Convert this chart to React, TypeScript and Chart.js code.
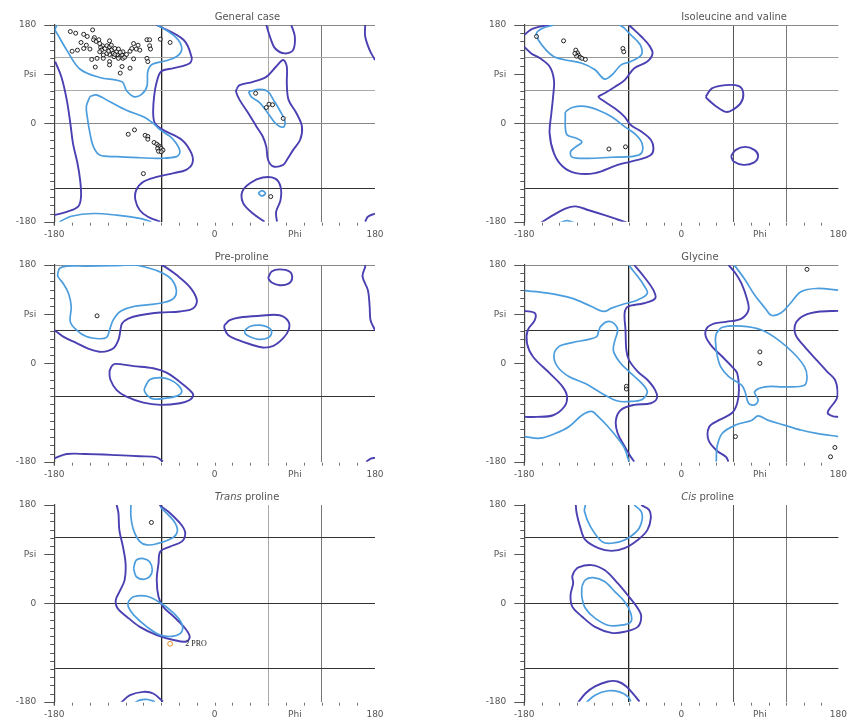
import React, { useEffect, useRef } from "react";
import { Chart, registerables } from "chart.js";

Chart.register(...registerables);

type Pt = [number, number];

// ---------------- axis ticks ----------------
const xLabelTicks = [-180, -60, 0, 60, 90, 120, 180];
const xLabelText: Record<string, string> = { "-180": "-180", "0": "0", "90": "Phi", "180": "180" };
const xMinorTicks = [-160, -140, -120, -100, -80, -60, -40, -20, 0, 20, 40, 60, 80, 100, 120, 140, 160];
const yTicks = [-180, -165, -150, -135, -120, -105, -90, -75, -60, -45, -30, -15, 0, 15, 30, 45, 60, 75, 90, 105, 120, 135, 150, 165, 180];
const yMajorTicks = [180, 90, 0, -180];
const yLabelText: Record<string, string> = { "180": "180", "90": "Psi", "0": "0", "-180": "-180" };

// ---------------- General case ----------------
const gcDarkLeft: Pt[] = [[-179, 113], [-172, 85], [-166, 43], [-162, 0], [-159, -37], [-154, -73], [-151, -104], [-150, -134], [-153, -152], [-166, -162], [-180, -168]];
const gcDarkMain: Pt[] = [[-65, 180], [-35, 153], [-26, 122], [-28, 110], [-46, 101], [-60, 95], [-65, 76], [-68, 49], [-69, 18], [-67, 0], [-58, -12], [-37, -30], [-26, -55], [-25, -73], [-32, -85], [-46, -91], [-65, -98], [-80, -107], [-88, -122], [-89, -140], [-84, -159], [-75, -171], [-61, -180]];
const gcDarkTopU: Pt[] = [[58, 180], [62, 159], [68, 137], [79, 128], [88, 134], [90, 159], [86, 180]];
const gcDarkLeftAlpha: Pt[] = [[25, 64], [28, 70], [43, 76], [58, 85], [69, 104], [77, 116], [81, 104], [81, 73], [83, 43], [92, 18], [98, -6], [96, -30], [88, -49], [81, -67], [77, -76], [66, -79], [60, -67], [58, -43], [54, -24], [47, -6], [38, 18], [28, 43], [24, 58]];
const gcDarkBottomArch: Pt[] = [[56, -180], [43, -165], [32, -146], [31, -125], [40, -109], [54, -99], [68, -101], [74, -116], [74, -140], [69, -162], [70, -180]];
const gcDarkRightTop: Pt[] = [[169, 180], [169, 159], [174, 134], [180, 116]];
const gcDarkRightBottom: Pt[] = [[169, -180], [172, -171], [180, -165]];
const gcLightBeta: Pt[] = [[-64, 180], [-52, 168], [-41, 153], [-37, 135], [-43, 122], [-56, 114], [-70, 108], [-75, 95], [-76, 68], [-82, 53], [-91, 49], [-99, 60], [-104, 76], [-129, 84], [-151, 99], [-166, 134], [-176, 162], [-179, 171], [-177, 180]];
const gcLightAlpha: Pt[] = [[-140, 49], [-133, 52], [-118, 40], [-99, 24], [-80, 12], [-69, 0], [-61, -12], [-50, -24], [-43, -37], [-39, -52], [-43, -61], [-61, -64], [-84, -63], [-110, -61], [-129, -58], [-136, -43], [-140, -18], [-143, 12], [-144, 31]];
const gcLightBottom: Pt[] = [[-174, -180], [-161, -170], [-136, -165], [-110, -168], [-84, -174], [-71, -180]];
const gcLightLeftAlpha: Pt[] = [[38, 58], [51, 62], [60, 58], [66, 43], [73, 24], [79, 3], [77, -7], [69, -1], [60, 18], [51, 37], [41, 49]];
const gcLightSmall: Pt[] = [[49, -128], [53, -123], [57, -128], [53, -133]];
const gcPoints: Pt[] = [
  [-162, 168], [-156, 165], [-147, 163], [-137, 171], [-143, 159], [-135, 157], [-150, 148], [-154, 134], [-160, 132], [-147, 137],
  [-144, 143], [-136, 153], [-133, 150], [-130, 153], [-126, 142], [-128, 139], [-127, 134], [-123, 137], [-121, 142], [-118, 151],
  [-118, 140], [-116, 134], [-114, 128], [-118, 126], [-112, 137], [-110, 131], [-109, 125], [-106, 122], [-104, 125], [-103, 131],
  [-108, 119], [-103, 119], [-95, 132], [-91, 146], [-86, 143], [-88, 136], [-84, 134], [-76, 153], [-73, 142], [-72, 136],
  [-61, 154], [-50, 148], [-132, 119], [-138, 117], [-125, 119], [-118, 113], [-118, 107], [-104, 104], [-95, 101], [-106, 92],
  [-76, 119], [-75, 113], [-91, 118], [-101, 121], [-99, 126], [-113, 122], [-121, 128], [-129, 131], [-125, 125], [-116, 143],
  [-119, 132], [-112, 126], [-108, 136], [-106, 130], [-129, 146], [-140, 136], [-73, 153], [-93, 137], [-134, 103],
  [-90, -12], [-97, -20], [-78, -22], [-75, -24], [-75, -29], [-68, -35], [-65, -38], [-63, -41], [-61, -43], [-64, -46],
  [-60, -46], [-63, -51], [-58, -49], [-60, -52], [-80, -92],
  [46, 55], [61, 35], [65, 34], [58, 29], [77, 9], [63, -134],
];

// ---------------- Isoleucine and valine ----------------
const ivDarkTopLeft: Pt[] = [[-180, 162], [-172, 172], [-162, 177], [-151, 180]];
const ivDarkMain: Pt[] = [[-180, 140], [-172, 128], [-162, 119], [-151, 104], [-146, 79], [-147, 49], [-149, 18], [-151, -18], [-146, -55], [-136, -79], [-121, -91], [-99, -91], [-73, -76], [-50, -67], [-35, -58], [-32, -46], [-35, -30], [-46, -15], [-58, -3], [-65, 12], [-76, 27], [-91, 43], [-95, 49], [-88, 55], [-76, 67], [-65, 79], [-54, 101], [-39, 113], [-33, 128], [-37, 143], [-46, 159], [-54, 171], [-60, 180]];
const ivDarkLoopA: Pt[] = [[28, 49], [35, 64], [51, 70], [66, 68], [71, 55], [68, 37], [58, 24], [51, 21], [40, 31], [29, 46]];
const ivDarkLoopB: Pt[] = [[57, -60], [62, -49], [73, -43], [84, -49], [88, -60], [83, -72], [71, -76], [60, -70]];
const ivDarkBottom: Pt[] = [[-162, -183], [-147, -168], [-133, -156], [-121, -152], [-106, -159], [-88, -168], [-73, -176], [-60, -183]];
const ivLightBeta: Pt[] = [[-146, 180], [-159, 174], [-166, 165], [-164, 153], [-155, 134], [-146, 122], [-133, 116], [-114, 110], [-99, 98], [-88, 81], [-80, 88], [-69, 107], [-58, 113], [-46, 125], [-46, 140], [-52, 153], [-60, 165], [-65, 174], [-71, 180]];
const ivLightAlpha: Pt[] = [[-133, 21], [-125, 29], [-110, 31], [-95, 24], [-80, 12], [-65, -6], [-52, -21], [-45, -37], [-46, -55], [-58, -61], [-80, -62], [-106, -64], [-125, -62], [-127, -52], [-121, -43], [-114, -34], [-121, -27], [-131, -21], [-133, -6], [-133, 12]];
const ivLightBottom: Pt[] = [[-141, -183], [-131, -178], [-121, -183]];
const ivPoints: Pt[] = [[-166, 159], [-135, 151], [-121, 134], [-119, 129], [-118, 125], [-120, 123], [-116, 121], [-114, 119], [-110, 117], [-122, 128], [-67, 137], [-66, 131], [-83, -47], [-64, -43]];

// ---------------- Pre-proline ----------------
const ppDarkMain: Pt[] = [[-60, 180], [-56, 177], [-43, 162], [-28, 140], [-20, 116], [-24, 101], [-39, 95], [-61, 93], [-84, 88], [-97, 82], [-104, 73], [-106, 58], [-108, 43], [-114, 27], [-127, 21], [-142, 27], [-155, 37], [-170, 49], [-180, 61]];
const ppDarkTopLoop: Pt[] = [[60, 156], [64, 168], [73, 172], [84, 168], [87, 156], [83, 146], [73, 143], [64, 148]];
const ppDarkLeftAlpha: Pt[] = [[11, 70], [17, 79], [28, 84], [51, 87], [73, 88], [83, 76], [83, 61], [77, 46], [66, 32], [54, 29], [40, 35], [26, 43], [15, 52], [11, 64]];
const ppDarkRightEdge: Pt[] = [[169, 180], [169, 177], [166, 159], [172, 134], [174, 104], [175, 79], [180, 61]];
const ppDarkRightBottom: Pt[] = [[170, -180], [176, -174], [180, -173]];
const ppDarkAlpha: Pt[] = [[-116, -6], [-112, -1], [-91, -5], [-69, -9], [-54, -17], [-39, -34], [-28, -49], [-24, -58], [-28, -67], [-39, -73], [-61, -76], [-80, -72], [-99, -61], [-110, -49], [-117, -30], [-118, -15]];
const ppDarkBottom: Pt[] = [[-180, -174], [-166, -166], [-144, -166], [-110, -168], [-84, -170], [-65, -172], [-58, -180]];
const ppLightBeta: Pt[] = [[-176, 165], [-174, 174], [-166, 178], [-144, 178], [-114, 179], [-91, 180], [-73, 174], [-58, 165], [-48, 153], [-43, 134], [-46, 119], [-58, 111], [-76, 107], [-91, 104], [-106, 95], [-114, 79], [-118, 61], [-121, 48], [-129, 45], [-144, 49], [-155, 61], [-162, 76], [-161, 104], [-164, 128], [-170, 146], [-176, 159]];
const ppLightLeftAlpha: Pt[] = [[34, 61], [40, 68], [51, 70], [60, 66], [64, 58], [60, 47], [49, 44], [39, 49], [34, 55]];
const ppLightAlpha: Pt[] = [[-78, -43], [-73, -30], [-61, -26], [-50, -30], [-41, -40], [-37, -52], [-43, -60], [-56, -64], [-69, -65], [-76, -58], [-79, -49]];
const ppPoints: Pt[] = [[-132, 87]];

// ---------------- Glycine ----------------
const glyDarkLeft: Pt[] = [[-180, 96], [-168, 92], [-168, 79], [-176, 61], [-177, 37], [-170, 12], [-151, -18], [-136, -43], [-131, -61], [-134, -79], [-147, -95], [-166, -98], [-180, -98]];
const glyDarkMidLeft: Pt[] = [[-54, 180], [-43, 159], [-32, 134], [-30, 119], [-43, 110], [-61, 104], [-65, 92], [-64, 61], [-63, 24], [-60, 6], [-50, -15], [-39, -30], [-30, -49], [-28, -64], [-35, -73], [-54, -76], [-69, -85], [-75, -104], [-73, -128], [-65, -152], [-58, -171], [-54, -180]];
const glyDarkMidRight: Pt[] = [[54, 180], [62, 165], [69, 146], [75, 119], [77, 98], [69, 82], [51, 76], [38, 73], [29, 64], [28, 49], [35, 31], [47, 12], [58, -6], [64, -18], [66, -49], [64, -73], [58, -91], [43, -104], [32, -116], [31, -140], [40, -159], [51, -171], [54, -180]];
const glyDarkRight: Pt[] = [[180, 96], [160, 95], [141, 88], [131, 73], [131, 52], [141, 31], [155, 6], [167, -15], [176, -30], [179, -50], [178, -65], [169, -85], [168, -92], [174, -97], [180, -98]];
const glyLightUpperLeft: Pt[] = [[-180, 133], [-155, 129], [-125, 119], [-103, 104], [-89, 95], [-80, 101], [-65, 109], [-50, 116], [-39, 128], [-43, 143], [-50, 159], [-56, 171], [-60, 180]];
const glyLightInnerLeft: Pt[] = [[-93, 67], [-86, 76], [-78, 74], [-73, 61], [-76, 43], [-78, 24], [-71, 3], [-58, -18], [-45, -37], [-39, -52], [-45, -66], [-61, -70], [-73, -69], [-91, -55], [-110, -37], [-129, -24], [-142, -6], [-146, 15], [-140, 31], [-125, 38], [-106, 44], [-97, 49], [-95, 58]];
const glyLightLowerLeft: Pt[] = [[-180, -134], [-162, -137], [-144, -128], [-129, -116], [-114, -95], [-103, -88], [-95, -98], [-84, -116], [-73, -137], [-65, -156], [-60, -180]];
const glyLightUpperRight: Pt[] = [[60, 180], [62, 177], [73, 153], [84, 125], [96, 101], [103, 88], [114, 92], [125, 110], [137, 131], [155, 137], [180, 134]];
const glyLightInnerRight: Pt[] = [[40, 55], [47, 66], [69, 68], [92, 61], [111, 43], [129, 18], [141, -6], [144, -24], [141, -40], [118, -43], [96, -43], [84, -52], [88, -67], [84, -76], [77, -73], [73, -52], [69, -40], [54, -24], [45, -6], [41, 15], [39, 43]];
const glyLightLowerRight: Pt[] = [[40, -180], [41, -152], [47, -128], [62, -113], [81, -104], [88, -96], [99, -104], [118, -113], [137, -122], [155, -128], [180, -134]];
const glyPoints: Pt[] = [[-63, -42], [-63, -47], [90, 21], [90, 0], [62, -134], [144, 172], [176, -154], [171, -171]];

// ---------------- Trans proline ----------------
const tpDarkMain: Pt[] = [[-110, 180], [-108, 165], [-107, 134], [-103, 104], [-100, 73], [-101, 43], [-106, 24], [-111, 6], [-109, -9], [-99, -24], [-84, -43], [-65, -58], [-46, -67], [-32, -70], [-28, -61], [-33, -46], [-46, -24], [-58, -6], [-63, 12], [-65, 43], [-63, 73], [-61, 95], [-50, 104], [-37, 113], [-33, 128], [-37, 143], [-50, 165], [-58, 175], [-62, 180]];
const tpDarkBottom: Pt[] = [[-106, -183], [-95, -168], [-80, -162], [-69, -165], [-58, -180]];
const tpLightTop: Pt[] = [[-61, 176], [-52, 162], [-44, 146], [-42, 131], [-48, 119], [-65, 109], [-76, 107], [-84, 113], [-91, 134], [-94, 159], [-94, 180]];
const tpLightSmall: Pt[] = [[-91, 64], [-88, 79], [-80, 82], [-73, 76], [-70, 61], [-73, 49], [-80, 44], [-88, 49]];
const tpLightAlpha: Pt[] = [[-97, 3], [-91, 12], [-76, 13], [-61, 1], [-46, -18], [-37, -37], [-37, -52], [-46, -60], [-61, -58], [-76, -43], [-91, -21], [-97, -6]];
const tpLightBottom: Pt[] = [[-91, -183], [-84, -177], [-75, -176], [-67, -180]];
const tpPoints: Pt[] = [[-71, 148]];
const tpFlagged: Pt[] = [[-50, -74]];
const tpFlagLabel = "2 PRO";

// ---------------- Cis proline ----------------
const cpDarkTop: Pt[] = [[-121, 180], [-120, 165], [-116, 140], [-110, 116], [-95, 101], [-80, 96], [-65, 101], [-50, 116], [-39, 134], [-35, 156], [-37, 171], [-46, 180]];
const cpDarkMid: Pt[] = [[-123, 58], [-118, 66], [-103, 70], [-88, 61], [-73, 37], [-60, 12], [-50, -9], [-46, -24], [-50, -43], [-65, -52], [-80, -54], [-99, -43], [-114, -24], [-125, -6], [-127, 15], [-124, 37], [-125, 49]];
const cpDarkBottom: Pt[] = [[-119, -183], [-110, -165], [-99, -152], [-84, -143], [-73, -143], [-63, -152], [-54, -168], [-48, -180]];
const cpLightTop: Pt[] = [[-110, 180], [-111, 168], [-104, 140], [-91, 113], [-80, 110], [-65, 116], [-50, 134], [-45, 153], [-46, 168], [-54, 180]];
const cpLightMid: Pt[] = [[-114, 31], [-110, 43], [-101, 47], [-88, 40], [-76, 21], [-65, 3], [-58, -18], [-58, -34], [-69, -40], [-84, -40], [-99, -27], [-110, -9], [-114, 12]];
const cpLightBottom: Pt[] = [[-110, -183], [-99, -168], [-84, -160], [-71, -162], [-61, -171], [-58, -180]];

// ---------------- grid lines per panel ----------------
const vLinesAll = [-60, 60, 120];
const hLinesGeneral = [180, 120, 60, 0, -120];
const hLinesPre = [180, 60, -60];
const hLinesPro = [120, 0, -120];

const DARK = "#4a40b2";
const LIGHT = "#4b9ddd";

type Panel = {
  title: string;
  italic: string;
  left: number;
  top: number;
  width: number;
  padRight: number;
  hLines: number[];
  hColors: string[];
  vColors: string[];
  darkPaths: Pt[][];
  darkLoops: Pt[][];
  lightPaths: Pt[][];
  lightLoops: Pt[][];
  points: Pt[];
  flagged?: Pt[];
  flagLabel?: string;
};

const panels: Panel[] = [
  {
    title: "General case", italic: "", left: 0, top: 0, width: 430, padRight: 55,
    hLines: hLinesGeneral, hColors: ["#888", "#aaa", "#aaa", "#888", "#333"], vColors: ["#222", "#aaa", "#777"],
    darkPaths: [gcDarkLeft, gcDarkMain, gcDarkTopU, gcDarkBottomArch, gcDarkRightTop, gcDarkRightBottom],
    darkLoops: [gcDarkLeftAlpha],
    lightPaths: [gcLightBeta, gcLightBottom],
    lightLoops: [gcLightAlpha, gcLightLeftAlpha, gcLightSmall],
    points: gcPoints,
  },
  {
    title: "Isoleucine and valine", italic: "", left: 470, top: 0, width: 385, padRight: 10,
    hLines: hLinesGeneral, hColors: ["#888", "#999", "#999", "#888", "#333"], vColors: ["#222", "#555", "#777"],
    darkPaths: [ivDarkTopLeft, ivDarkMain, ivDarkBottom],
    darkLoops: [ivDarkLoopA, ivDarkLoopB],
    lightPaths: [ivLightBeta, ivLightBottom],
    lightLoops: [ivLightAlpha],
    points: ivPoints,
  },
  {
    title: "Pre-proline", italic: "", left: 0, top: 240, width: 430, padRight: 55,
    hLines: hLinesPre, hColors: ["#888", "#333", "#333"], vColors: ["#222", "#aaa", "#777"],
    darkPaths: [ppDarkMain, ppDarkRightEdge, ppDarkRightBottom, ppDarkBottom],
    darkLoops: [ppDarkTopLoop, ppDarkLeftAlpha, ppDarkAlpha],
    lightPaths: [],
    lightLoops: [ppLightBeta, ppLightLeftAlpha, ppLightAlpha],
    points: ppPoints,
  },
  {
    title: "Glycine", italic: "", left: 470, top: 240, width: 385, padRight: 10,
    hLines: hLinesPre, hColors: ["#888", "#333", "#333"], vColors: ["#222", "#555", "#777"],
    darkPaths: [glyDarkLeft, glyDarkMidLeft, glyDarkMidRight, glyDarkRight],
    darkLoops: [],
    lightPaths: [glyLightUpperLeft, glyLightLowerLeft, glyLightUpperRight, glyLightLowerRight],
    lightLoops: [glyLightInnerLeft, glyLightInnerRight],
    points: glyPoints,
  },
  {
    title: " proline", italic: "Trans", left: 0, top: 480, width: 430, padRight: 55,
    hLines: hLinesPro, hColors: ["#333", "#333", "#333"], vColors: ["#222", "#aaa", "#777"],
    darkPaths: [tpDarkMain, tpDarkBottom],
    darkLoops: [],
    lightPaths: [tpLightTop, tpLightBottom],
    lightLoops: [tpLightSmall, tpLightAlpha],
    points: tpPoints,
    flagged: tpFlagged,
    flagLabel: tpFlagLabel,
  },
  {
    title: " proline", italic: "Cis", left: 470, top: 480, width: 385, padRight: 10,
    hLines: hLinesPro, hColors: ["#333", "#333", "#333"], vColors: ["#222", "#555", "#777"],
    darkPaths: [cpDarkTop, cpDarkBottom],
    darkLoops: [cpDarkMid],
    lightPaths: [cpLightTop, cpLightBottom],
    lightLoops: [cpLightMid],
    points: [],
  },
];

const FONT = "'DejaVu Sans', 'Liberation Sans', sans-serif";
const TRANSPARENT = "rgba(0,0,0,0)";

const toXY = (a: Pt[]) => a.map(([x, y]) => ({ x, y }));
const closeLoop = (a: Pt[]) => toXY([...a, a[0]]);

const decorPlugin = {
  id: "decor",
  afterDraw(chart: any, _args: any, opts: any) {
    const { ctx, chartArea } = chart;
    const xs = chart.scales.x;
    const ys = chart.scales.y;
    ctx.save();
    // x minor ticks (just below the plot)
    ctx.strokeStyle = "#777";
    ctx.lineWidth = 1;
    for (const v of xMinorTicks) {
      const px = Math.round(xs.getPixelForValue(v)) + 0.5;
      ctx.beginPath();
      ctx.moveTo(px, chartArea.bottom + 1);
      ctx.lineTo(px, chartArea.bottom + 4);
      ctx.stroke();
    }
    // y ticks
    ctx.strokeStyle = "#555";
    for (const v of yTicks) {
      const py = Math.round(ys.getPixelForValue(v)) + 0.5;
      const len = yMajorTicks.includes(v) ? 10 : 4;
      ctx.beginPath();
      ctx.moveTo(chartArea.left - len, py);
      ctx.lineTo(chartArea.left, py);
      ctx.stroke();
    }
    // axis line runs a little past the bottom
    ctx.strokeStyle = "#444";
    ctx.lineWidth = 1.2;
    ctx.beginPath();
    ctx.moveTo(chartArea.left, chartArea.bottom);
    ctx.lineTo(chartArea.left, chartArea.bottom + 4);
    ctx.stroke();
    // title, left-aligned at phi = 0
    const tx = xs.getPixelForValue(0);
    const ty = chartArea.top - 8;
    ctx.fillStyle = "#555";
    ctx.textBaseline = "middle";
    ctx.textAlign = "left";
    let x = tx;
    if (opts.italic) {
      ctx.font = `italic 10px ${FONT}`;
      ctx.fillText(opts.italic, x, ty);
      x += ctx.measureText(opts.italic).width;
    }
    ctx.font = `10px ${FONT}`;
    ctx.fillText(opts.title, x, ty);
    // flagged residue label
    if (opts.flagged && opts.flagLabel) {
      for (const [phi, psi] of opts.flagged as Pt[]) {
        ctx.font = "8px 'Liberation Serif', serif";
        ctx.fillStyle = "#222";
        ctx.fillText(opts.flagLabel, xs.getPixelForValue(phi + 17), ys.getPixelForValue(psi));
      }
    }
    ctx.restore();
  },
};

function RamaPanel({ panel }: { panel: Panel }) {
  const ref = useRef<HTMLCanvasElement | null>(null);
  useEffect(() => {
    if (!ref.current) return;
    const datasets: any[] = [];
    if (panel.flagged) {
      datasets.push({
        data: toXY(panel.flagged), showLine: false, pointRadius: 2.4, pointBorderWidth: 1,
        pointBorderColor: "#e08a2a", pointBackgroundColor: TRANSPARENT,
      });
    }
    datasets.push({
      data: toXY(panel.points), showLine: false, pointRadius: 2, pointBorderWidth: 0.9,
      pointBorderColor: "#111", pointBackgroundColor: "rgba(255,255,255,0.6)",
    });
    const line = (data: any[], color: string, width: number) => ({
      data, showLine: true, borderColor: color, borderWidth: width, pointRadius: 0,
      tension: 0.35, fill: false,
    });
    panel.lightPaths.forEach((p) => datasets.push(line(toXY(p), LIGHT, 1.7)));
    panel.lightLoops.forEach((p) => datasets.push(line(closeLoop(p), LIGHT, 1.7)));
    panel.darkPaths.forEach((p) => datasets.push(line(toXY(p), DARK, 1.9)));
    panel.darkLoops.forEach((p) => datasets.push(line(closeLoop(p), DARK, 1.9)));

    const chart = new Chart(ref.current, {
      type: "scatter",
      data: { datasets },
      plugins: [decorPlugin as any],
      options: {
        animation: false,
        responsive: false,
        events: [],
        layout: { padding: { top: 25, right: panel.padRight, left: 0, bottom: 0 } },
        plugins: {
          legend: { display: false },
          tooltip: { enabled: false },
          title: { display: false },
          decor: { title: panel.title, italic: panel.italic, flagged: panel.flagged, flagLabel: panel.flagLabel },
        } as any,
        scales: {
          x: {
            type: "linear",
            min: -180,
            max: 180,
            afterBuildTicks: (scale: any) => {
              scale.ticks = xLabelTicks.map((v) => ({ value: v }));
            },
            afterFit: (scale: any) => {
              scale.height = 18.3;
            },
            border: { display: false },
            grid: {
              drawTicks: false,
              color: (c: any) => {
                const i = vLinesAll.indexOf(c.tick?.value);
                return i >= 0 ? panel.vColors[i] : TRANSPARENT;
              },
              lineWidth: (c: any) => (c.tick?.value === -60 ? 1.3 : 1),
            },
            ticks: {
              autoSkip: false,
              maxRotation: 0,
              padding: 8,
              color: "#555",
              font: { family: FONT, size: 9 },
              callback: (v: any) => xLabelText[String(v)] ?? "",
            },
          },
          y: {
            type: "linear",
            min: -180,
            max: 180,
            afterBuildTicks: (scale: any) => {
              scale.ticks = yTicks.map((v) => ({ value: v }));
            },
            afterFit: (scale: any) => {
              scale.width = 54.3;
              scale.paddingTop = 0;
              scale.paddingBottom = 0;
            },
            border: { display: true, color: "#444", width: 1.2 },
            grid: {
              drawTicks: false,
              color: (c: any) => {
                const i = panel.hLines.indexOf(c.tick?.value);
                return i >= 0 ? panel.hColors[i] : TRANSPARENT;
              },
              lineWidth: 1,
            },
            ticks: {
              autoSkip: false,
              padding: 18,
              color: "#555",
              font: { family: FONT, size: 9 },
              callback: (v: any) => yLabelText[String(v)] ?? "",
            },
          },
        },
      } as any,
    });
    return () => chart.destroy();
  }, [panel]);
  return (
    <canvas
      ref={ref}
      width={panel.width}
      height={240}
      style={{ position: "absolute", left: panel.left, top: panel.top, width: panel.width, height: 240 }}
    />
  );
}

export default function App() {
  return (
    <div style={{ position: "absolute", left: 0, top: 0, width: 855, height: 720, background: "#fff" }}>
      {panels.map((p, i) => (
        <RamaPanel key={i} panel={p} />
      ))}
    </div>
  );
}
